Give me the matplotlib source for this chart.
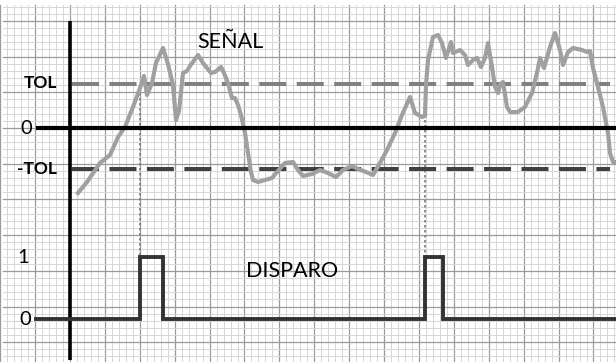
import numpy as np
import matplotlib
matplotlib.use("Agg")
import matplotlib.pyplot as plt

# ---------------- data (time units along x, amplitude units along y) ----------------
signal_t = [8, 17, 30, 40, 48, 55, 63, 70, 74, 77, 82, 86, 93, 98, 103, 106, 109, 113,
            117, 120, 128, 133, 137, 141, 145, 151, 154, 158, 162, 165, 168, 171, 175,
            178, 181, 183, 188, 195, 202, 207, 215, 223, 228, 233, 242, 250, 258, 266,
            273, 282, 288, 296, 303, 310, 317, 325, 332, 340, 345, 352, 355, 356, 358,
            363, 368, 372, 376, 381, 383, 390, 395, 398, 403, 407, 411, 415, 418, 422,
            425, 428, 430, 433, 437, 440, 448, 455, 462, 467, 470, 474, 480, 485, 490,
            493, 498, 503, 512, 517, 520, 523, 528, 533, 538, 540, 543, 546]
signal_v = [-65, -54, -35, -27, -9, 1, 21, 40, 52, 33, 45, 65, 80, 64, 43, 8, 17, 55,
            57, 62, 73, 65, 60, 55, 56, 61, 55, 45, 30, 30, 23, 13, -5, -25, -44, -52,
            -54, -52, -50, -44, -35, -34, -42, -48, -46, -42, -45, -49, -42, -38, -41,
            -44, -47, -35, -22, -5, 13, 31, 15, 11, 12, 43, 68, 91, 93, 85, 70, 86, 75,
            78, 73, 63, 68, 70, 61, 70, 85, 61, 41, 35, 43, 46, 21, 16, 16, 21, 35, 55,
            70, 60, 81, 95, 78, 63, 76, 80, 78, 76, 77, 60, 41, 21, -5, -25, -34, -34]

tol_level = 44
neg_tol_level = -41

pulse_t = [-34, 70, 70, 93, 93, 355, 355, 373, 373, 546]
pulse_state = [0, 0, 1, 1, 0, 0, 1, 1, 0, 0]

trigger_t = [70, 355]
trigger_top = [40, 43]

axis_labels = ["TOL", "0", "-TOL", "1", "0"]

# ---------------- layout ----------------
W, H = 616, 362
fig = plt.figure(figsize=(W / 100, H / 100), dpi=100)
ax = fig.add_axes([0, 0, 1, 1])
x0, x1 = -70, 546
y0, y1 = -234, 128
ax.set_xlim(x0, x1)
ax.set_ylim(y0, y1)
ax.axis("off")

# graph-paper grid
gx, gy = 34.9, 35.7
grid_top = 123
xs_minor = np.arange(-2 * gx, x1 + 1, gx / 5)
ys_minor = np.arange(-7 * gy, grid_top, gy / 5)
for i, xv in enumerate(xs_minor):
    major = (i % 5 == 0)
    ax.plot([xv, xv], [y0, grid_top], color="#9a9a9a" if major else "#d6d6d6",
            lw=0.9 if major else 0.7, zorder=1)
for yv in ys_minor:
    k = yv / gy
    major = abs(k - round(k)) < 1e-6
    ax.plot([x0 + 3, x1], [yv, yv], color="#9a9a9a" if major else "#d6d6d6",
            lw=0.9 if major else 0.7, zorder=1)

# axes lines
ax.plot([0, 0], [-232, 107.3], color="black", lw=2.6, zorder=5, solid_capstyle="butt")
ax.plot([-34, x1], [0, 0], color="black", lw=3.0, zorder=5, solid_capstyle="butt")

# tolerance lines
ax.plot([2, 540], [tol_level, tol_level], color="#808080", lw=2.9, dashes=(6.7, 2.6), zorder=3)
ax.plot([2, 540], [neg_tol_level, neg_tol_level], color="#404040", lw=2.9, dashes=(6.7, 2.6), zorder=3)

# pulse train (DISPARO)
base = -191.3
height = 62.6
pulse_y = [base + s * height for s in pulse_state]
ax.plot(pulse_t, pulse_y, color="#333333", lw=2.8, zorder=5, solid_joinstyle="miter")

# trigger dotted lines
for t, top in zip(trigger_t, trigger_top):
    ax.plot([t, t], [top, base + height], color="#7a7a7a", lw=1.2, ls=(0, (1.5, 1.5)), zorder=2)

# signal
ax.plot(signal_t, signal_v, color="#a0a0a0", lw=3.0, zorder=4, solid_joinstyle="round")

# texts
font = "Lato"
ax.text(-30, 45, axis_labels[0], fontsize=12.5, fontweight="bold", family=font,
        ha="center", va="center", zorder=6)
ax.text(-44, -1, axis_labels[1], fontsize=14.5, family=font, ha="center", va="center", zorder=6)
ax.text(-33, -41, axis_labels[2], fontsize=12.5, fontweight="bold", family=font,
        ha="center", va="center", zorder=6)
ax.text(-46.5, base + height - 1, axis_labels[3], fontsize=14.5, family=font, ha="center",
        va="center", zorder=6)
ax.text(-45, base, axis_labels[4], fontsize=14.5, family=font, ha="center", va="center", zorder=6)
ax.text(160, 86, "SEÑAL", fontsize=15.5, family=font, ha="center", va="center", zorder=6)
ax.text(222, -143, "DISPARO", fontsize=15.5, family=font, ha="center", va="center", zorder=6)

fig.savefig("out.png", dpi=100, facecolor="white")
